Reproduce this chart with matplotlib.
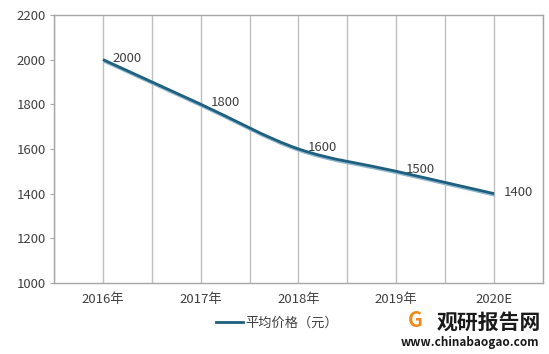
import matplotlib
matplotlib.use("Agg")
import matplotlib.pyplot as plt
import numpy as np
from matplotlib.path import Path
from matplotlib.patches import PathPatch
from matplotlib.lines import Line2D
import matplotlib.patheffects as pe

plt.rcParams["font.family"] = ["Noto Sans CJK SC", "DejaVu Sans"]

years = ["2016年", "2017年", "2018年", "2019年", "2020E"]
prices = [2000, 1800, 1600, 1500, 1400]
series_name = "平均价格（元）"

LINE = "#1f5f80"
GRID = "#bfbfbf"
TEXT = "#404040"


def smooth_path(xs, ys, tension=1 / 6):
    """Catmull-Rom style bezier through the data points."""
    xs = np.asarray(xs, float)
    ys = np.asarray(ys, float)
    verts = [(xs[0], ys[0])]
    codes = [Path.MOVETO]
    n = len(xs)
    for i in range(n - 1):
        p0 = (xs[max(i - 1, 0)], ys[max(i - 1, 0)])
        p1 = (xs[i], ys[i])
        p2 = (xs[i + 1], ys[i + 1])
        p3 = (xs[min(i + 2, n - 1)], ys[min(i + 2, n - 1)])
        c1 = (p1[0] + (p2[0] - p0[0]) * tension, p1[1] + (p2[1] - p0[1]) * tension)
        c2 = (p2[0] - (p3[0] - p1[0]) * tension, p2[1] - (p3[1] - p1[1]) * tension)
        verts += [c1, c2, p2]
        codes += [Path.CURVE4] * 3
    return Path(verts, codes)


fig = plt.figure(figsize=(5.49, 3.54), dpi=100)
ax = fig.add_axes([0.0984, 0.2006, 0.8906, 0.7574])

x = np.arange(len(years))
ax.set_xlim(-0.5, len(years) - 0.5)
ax.set_ylim(1000, 2200)
ax.set_yticks(range(1000, 2201, 200))
ax.set_xticks(x)
ax.set_xticklabels(years)

for gx in np.arange(-0.5, len(years), 0.5):
    ax.axvline(gx, color=GRID, lw=1, zorder=0)

for s in ax.spines.values():
    s.set_color("#a6a6a6")
    s.set_linewidth(1)

ax.tick_params(axis="y", length=3, color="#a6a6a6", labelsize=9.5, labelcolor=TEXT, pad=3)
ax.tick_params(axis="x", length=0, labelsize=9.5, labelcolor=TEXT, pad=7)

path = smooth_path(x, prices)
patch = PathPatch(path, facecolor="none", edgecolor=LINE, lw=2.0, zorder=3,
                  path_effects=[pe.SimpleLineShadow(offset=(0.6, -1.2), shadow_color="#8fb8cc", alpha=1),
                                pe.Normal()])
ax.add_patch(patch)

for xi, v in zip(x, prices):
    ax.annotate(str(v), (xi, v), xytext=(7, 1), textcoords="offset points",
                fontsize=9.5, color=TEXT, ha="left", va="center")

handle = Line2D([0], [0], color=LINE, lw=2.0)
fig.legend([handle], [series_name], loc="center", bbox_to_anchor=(0.505, 0.088),
           frameon=False, fontsize=9.5, handlelength=2.0, handletextpad=0.2,
           labelcolor=TEXT)

# watermark
fig.text(0.795, 0.09, "观研报告网", fontsize=15, fontweight="bold", color="#1a1a1a",
         ha="left", va="center")
fig.text(0.73, 0.033, "www.chinabaogao.com", fontsize=8.5, fontweight="bold", color="#1a1a1a",
         ha="left", va="center")
fig.text(0.757, 0.095, "G", fontsize=15, fontweight="bold", color="#f08a1c",
         ha="center", va="center")

fig.savefig("out.png", dpi=100)
